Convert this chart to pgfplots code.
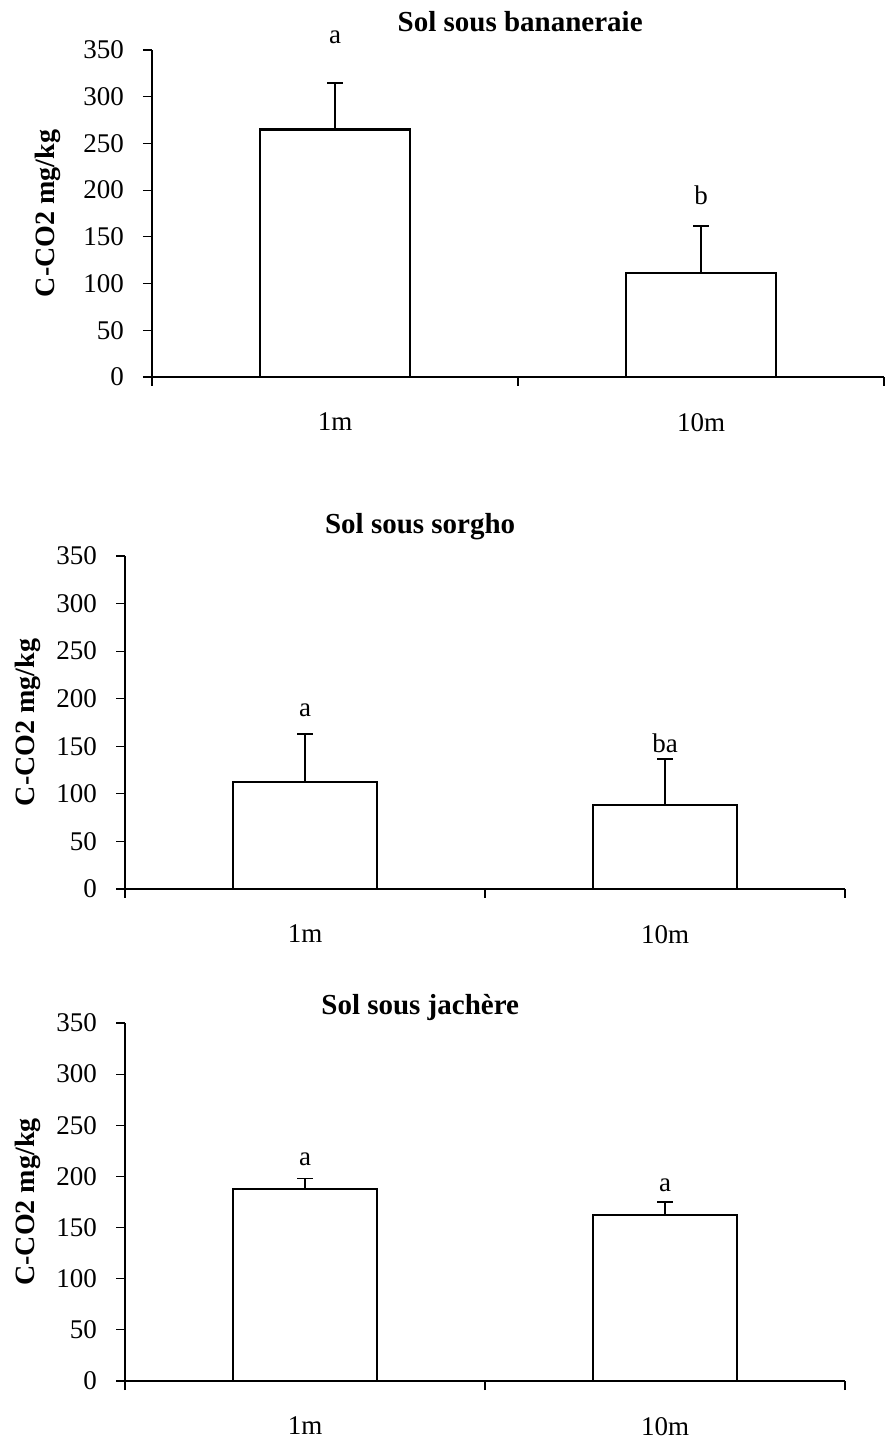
\documentclass[border=0pt]{standalone}
\usepackage{fontspec}
\setmainfont{Liberation Serif}
\usepackage{pgfplots}
\pgfplotsset{compat=1.18}
\tikzset{lettre/.style={font=\fontsize{13.5}{16}\selectfont}}
\pgfplotsset{
 mystyle/.style={
  scale only axis,
  anchor=south west,
  axis lines=left,
  axis line style={black, line width=0.6pt, -},
  xmin=0, xmax=2, ymin=0, ymax=350,
  ytick={0,50,...,350},
  xtick={0,1,2}, xticklabels={},
  extra x ticks={0.5,1.5},
  extra x tick labels={1m,10m},
  extra x tick style={tick style={draw=none}},
  tick align=outside,
  major tick length=4.5pt,
  tick style={black, line width=0.6pt},
  ticklabel style={font=\fontsize{13.5}{16}\selectfont},
  yticklabel style={xshift=-6pt},
  xticklabel style={yshift=-10pt},
  /pgf/number format/assume math mode=true,
  ylabel={C-CO2 mg/kg},
  ylabel style={font=\fontsize{14}{16}\selectfont\bfseries, anchor=center, rotate=0},
  every axis title shift=0pt,
  clip=false,
  ybar, bar shift=0pt,
  cycle list={{draw=black, fill=white}},
  every axis plot post/.append style={line width=1.2pt},
  error bars/y dir=plus, error bars/y explicit,
  error bars/error mark options={black, rotate=90, mark size=4pt, line width=0.9pt},
  error bars/error bar style={black, line width=0.8pt},
 },
}
\begin{document}
\begin{tikzpicture}
\useasboundingbox (0,0) rectangle (442pt,719pt);
% Panel 1
\begin{axis}[mystyle,
  at={(76pt,530.5pt)}, width=366pt, height=163.5pt,
  bar width=0.41,
  title={Sol sous bananeraie},
  title style={at={(axis description cs:0.503,1.086)}, anchor=center, font=\fontsize{14.5}{17}\selectfont\bfseries},
  ylabel style={at={(axis description cs:-0.142,0.5)}},
]
\addplot coordinates {(0.5,265) +- (0,50) (1.5,111) +- (0,51)};
\node[lettre] at (axis cs:0.5,364) {a};
\node[lettre] at (axis cs:1.5,195) {b};
\end{axis}
% Panel 2
\begin{axis}[mystyle,
  at={(62.5pt,274.5pt)}, width=360pt, height=166.5pt,
  bar width=0.40,
  title={Sol sous sorgho},
  title style={at={(axis description cs:0.41,1.087)}, anchor=center, font=\fontsize{14.5}{17}\selectfont\bfseries},
  ylabel style={at={(axis description cs:-0.135,0.5)}},
]
\addplot coordinates {(0.5,112.5) +- (0,50.5) (1.5,88) +- (0,49)};
\node[lettre] at (axis cs:0.5,188) {a};
\node[lettre] at (axis cs:1.5,153.5) {ba};
\end{axis}
% Panel 3
\begin{axis}[mystyle,
  at={(62.5pt,28.5pt)}, width=360pt, height=179pt,
  bar width=0.40,
  title={Sol sous jachère},
  title style={at={(axis description cs:0.41,1.042)}, anchor=center, font=\fontsize{14.5}{17}\selectfont\bfseries},
  ylabel style={at={(axis description cs:-0.135,0.5)}},
]
\addplot coordinates {(0.5,188) +- (0,10) (1.5,162) +- (0,13)};
\node[lettre] at (axis cs:0.5,217) {a};
\node[lettre] at (axis cs:1.5,191.6) {a};
\end{axis}
\end{tikzpicture}
\end{document}
